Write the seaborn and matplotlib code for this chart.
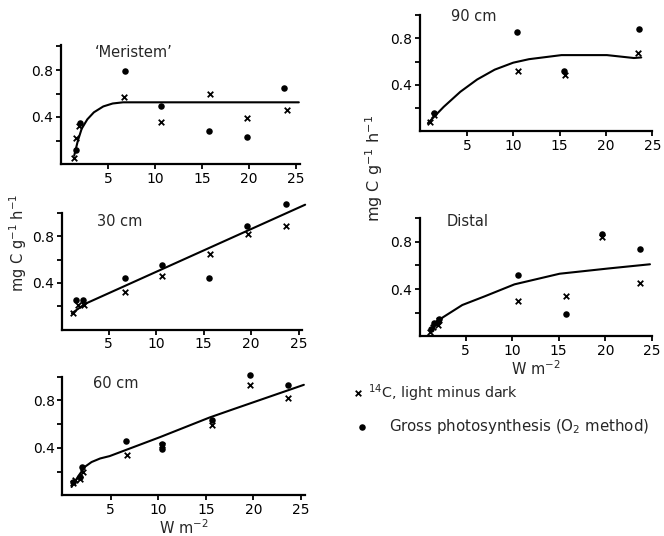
import numpy as np
import pandas as pd
import seaborn as sns
import matplotlib
matplotlib.use("Agg")
import matplotlib.pyplot as plt

# ---------------- data ----------------
# 'Meristem'
mer_cross_x = [1.4, 1.6, 1.9, 6.7, 10.6, 15.8, 19.8, 24.0]
mer_cross_y = [0.05, 0.22, 0.32, 0.57, 0.36, 0.60, 0.39, 0.46]
mer_dot_x = [1.6, 2.0, 6.8, 10.6, 15.7, 19.8, 23.7]
mer_dot_y = [0.12, 0.35, 0.79, 0.49, 0.28, 0.23, 0.65]
mer_fit_x = [1.4, 1.8, 2.2, 2.8, 3.5, 4.5, 5.5, 6.6, 25.3]
mer_fit_y = [0.07, 0.20, 0.30, 0.38, 0.44, 0.49, 0.515, 0.525, 0.525]

# 30 cm
c30_cross_x = [1.25, 1.75, 2.4, 6.75, 10.6, 15.7, 19.7, 23.7]
c30_cross_y = [0.14, 0.21, 0.21, 0.32, 0.46, 0.65, 0.82, 0.89]
c30_dot_x = [1.6, 2.3, 6.75, 10.6, 15.6, 19.6, 23.7]
c30_dot_y = [0.25, 0.255, 0.445, 0.55, 0.44, 0.89, 1.08]
c30_fit_x = [1.15, 2.5, 25.7]
c30_fit_y = [0.14, 0.22, 1.07]

# 60 cm
c60_cross_x = [1.0, 1.3, 1.8, 2.1, 6.7, 10.4, 15.6, 19.6, 23.6]
c60_cross_y = [0.10, 0.13, 0.14, 0.20, 0.34, 0.42, 0.59, 0.93, 0.82]
c60_dot_x = [1.1, 1.8, 2.0, 6.6, 10.4, 10.4, 15.6, 19.6, 23.6]
c60_dot_y = [0.11, 0.15, 0.24, 0.46, 0.43, 0.39, 0.63, 1.01, 0.93]
c60_fit_x = [0.9, 1.6, 2.3, 3.0, 3.9, 4.9, 10.2, 15.4, 17.9, 25.3]
c60_fit_y = [0.07, 0.16, 0.24, 0.28, 0.31, 0.33, 0.49, 0.655, 0.725, 0.93]

# 90 cm
c90_cross_x = [1.0, 1.5, 10.5, 15.6, 23.5]
c90_cross_y = [0.08, 0.14, 0.515, 0.48, 0.67]
c90_dot_x = [1.45, 10.4, 15.5, 23.6]
c90_dot_y = [0.16, 0.85, 0.52, 0.88]
c90_fit_x = [0.8, 2.5, 4.3, 6.1, 8.0, 10.0, 11.7, 15.2, 20.1, 23.0, 23.8]
c90_fit_y = [0.07, 0.21, 0.34, 0.445, 0.53, 0.59, 0.62, 0.655, 0.655, 0.63, 0.635]

# Distal
dis_cross_x = [1.15, 1.5, 2.0, 2.2, 10.6, 15.8, 19.7, 23.7]
dis_cross_y = [0.04, 0.08, 0.095, 0.14, 0.30, 0.34, 0.84, 0.45]
dis_dot_x = [1.3, 1.6, 2.0, 2.2, 10.6, 15.8, 19.7, 23.7]
dis_dot_y = [0.06, 0.11, 0.12, 0.15, 0.52, 0.19, 0.87, 0.74]
dis_fit_x = [1.15, 2.55, 4.65, 7.1, 10.25, 15.1, 20.4, 24.8]
dis_fit_y = [0.05, 0.16, 0.265, 0.34, 0.44, 0.53, 0.575, 0.61]

panel_titles = ["\u2018Meristem\u2019", "30 cm", "60 cm", "90 cm", "Distal"]
x_ticks = [5, 10, 15, 20, 25]
y_ticks = [0.2, 0.4, 0.6, 0.8, 1.0]
y_tick_labels = ["", "0.4", "", "0.8", ""]
y_label = "mg C g$^{-1}$ h$^{-1}$"
x_label = "W m$^{-2}$"
legend_cross = "$^{14}$C, light minus dark"
legend_dot = "Gross photosynthesis (O$_2$ method)"

# ---------------- drawing ----------------
sns.set_style("ticks")
plt.rcParams["font.family"] = ["DejaVu Sans"]

W, H = 664, 536
fig = plt.figure(figsize=(W / 100, H / 100), dpi=100)


def make_ax(left_px, x0_px, px_per_unit, xmax, y0_px, py_per_unit, ymax):
    xmin = (left_px - x0_px) / px_per_unit
    width = (xmax - xmin) * px_per_unit
    height = ymax * py_per_unit
    bottom = y0_px
    return fig.add_axes([left_px / W, 1 - bottom / H, width / W, height / H]), xmin


panels = [
    dict(geo=(60.5, 61, 9.4, 25.4, 164, 117.5, 1.01),
         cx=mer_cross_x, cy=mer_cross_y, dx=mer_dot_x, dy=mer_dot_y,
         fx=mer_fit_x, fy=mer_fit_y, title=panel_titles[0], tpos=(3.6, 0.95), xlabel=False),
    dict(geo=(62, 61, 9.5, 25.4, 329.7, 119.2, 0.98),
         cx=c30_cross_x, cy=c30_cross_y, dx=c30_dot_x, dy=c30_dot_y,
         fx=c30_fit_x, fy=c30_fit_y, title=panel_titles[1], tpos=(3.8, 0.93), xlabel=False),
    dict(geo=(62.3, 63, 9.52, 25.4, 495.3, 120, 0.99),
         cx=c60_cross_x, cy=c60_cross_y, dx=c60_dot_x, dy=c60_dot_y,
         fx=c60_fit_x, fy=c60_fit_y, title=panel_titles[2], tpos=(3.2, 0.94), xlabel=True),
    dict(geo=(419.5, 420.5, 9.35, 24.8, 131.3, 117.5, 0.99),
         cx=c90_cross_x, cy=c90_cross_y, dx=c90_dot_x, dy=c90_dot_y,
         fx=c90_fit_x, fy=c90_fit_y, title=panel_titles[3], tpos=(3.3, 0.99), xlabel=False),
    dict(geo=(419.5, 419, 9.35, 24.9, 336.3, 118.3, 0.998),
         cx=dis_cross_x, cy=dis_cross_y, dx=dis_dot_x, dy=dis_dot_y,
         fx=dis_fit_x, fy=dis_fit_y, title=panel_titles[4], tpos=(3.0, 0.97), xlabel=True),
]

for p in panels:
    ax, xmin = make_ax(*p["geo"])
    xmax, ymax = p["geo"][3], p["geo"][6]
    fit = pd.DataFrame({"x": p["fx"], "y": p["fy"]})
    cr = pd.DataFrame({"x": p["cx"], "y": p["cy"]})
    dt = pd.DataFrame({"x": p["dx"], "y": p["dy"]})
    sns.lineplot(data=fit, x="x", y="y", ax=ax, color="black", lw=1.5,
                 sort=False, estimator=None, clip_on=False)
    sns.scatterplot(data=dt, x="x", y="y", ax=ax, color="black", s=22,
                    marker="o", edgecolor="black", linewidth=0, clip_on=False, zorder=3)
    sns.scatterplot(data=cr, x="x", y="y", ax=ax, color="black", s=16,
                    marker="x", linewidth=1.3, clip_on=False, zorder=3)
    ax.set_xlim(xmin, xmax)
    ax.set_ylim(0, ymax)
    ax.set_xticks(x_ticks)
    ax.set_xticklabels([str(t) for t in x_ticks], fontsize=10)
    ax.set_yticks(y_ticks)
    ax.set_yticklabels(y_tick_labels, fontsize=10)
    ax.tick_params(axis="both", direction="out", length=3.5, width=1.3, pad=2, colors="black")
    for s in ["top", "right"]:
        ax.spines[s].set_visible(False)
    for s in ["left", "bottom"]:
        ax.spines[s].set_linewidth(1.6)
        ax.spines[s].set_color("black")
    ax.set_xlabel("")
    ax.set_ylabel("")
    ax.text(p["tpos"][0], p["tpos"][1], p["title"], fontsize=10.5, ha="left", va="center")
    if p["xlabel"]:
        ax.set_xlabel(x_label, fontsize=10.5, labelpad=1)
    ax.set_facecolor("none")

# y labels
fig.text(18 / W, 1 - 243 / H, y_label, rotation=90, ha="center", va="center", fontsize=10.5)
fig.text(374 / W, 1 - 168 / H, y_label, rotation=90, ha="center", va="center", fontsize=11.5)

# legend (drawn as figure-level markers and texts)
leg = fig.add_axes([0, 0, 1, 1])
leg.set_xlim(0, W)
leg.set_ylim(H, 0)
leg.axis("off")
sns.scatterplot(x=[358], y=[393], ax=leg, marker="x", color="black", s=16, linewidth=1.3)
sns.scatterplot(x=[362], y=[427], ax=leg, marker="o", color="black", s=22, linewidth=0)
leg.text(368, 393, legend_cross, fontsize=10.3, ha="left", va="center")
leg.text(389, 427, legend_dot, fontsize=10.8, ha="left", va="center")

fig.savefig("out.png", dpi=100)
